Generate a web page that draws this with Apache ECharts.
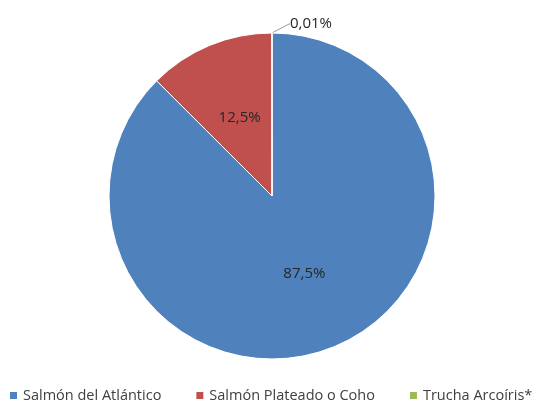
<!DOCTYPE html>
<html>
<head>
<meta charset="utf-8">
<script src="https://cdn.jsdelivr.net/npm/echarts@6/dist/echarts.min.js"></script>
<style>
  html, body { margin: 0; padding: 0; background: #fff; }
  #chart { width: 539px; height: 403px; }
</style>
</head>
<body>
<div id="chart"></div>
<script>
const categories = ['Salmón del Atlántico', 'Salmón Plateado o Coho', 'Trucha Arcoíris*']
const shares = [87.49, 12.5, 0.01]
const colors = ['#4F81BD', '#C0504D', '#9BBB59']

const fmt = (v) => (v < 0.1 ? v.toFixed(2) : v.toFixed(1)).replace('.', ',') + '%'

const chart = echarts.init(document.getElementById('chart'))

chart.setOption({
  animation: false,
  color: colors,
  legend: {
    data: categories,
    top: 388,
    left: 8,
    width: 531,
    padding: 0,
    icon: 'rect',
    itemWidth: 9,
    itemHeight: 9,
    itemGap: 33,
    textStyle: { color: '#404040', fontSize: 14.5, fontFamily: 'Open Sans' },
  },
  series: [
    {
      type: 'pie',
      center: [272, 196],
      radius: [0, 163],
      startAngle: 90,
      clockwise: true,
      data: categories.map((name, i) => ({
        name,
        value: shares[i],
        label: i === 2 ? { position: 'outside' } : undefined,
        labelLine: i === 2 ? { show: true, length: 1, length2: 1 } : undefined,
      })),
      itemStyle: { borderColor: '#fff', borderWidth: 1 },
      label: {
        show: true,
        position: 'inside',
        color: '#262626',
        fontSize: 15,
        fontFamily: 'Open Sans',
        formatter: (p) => fmt(p.value),
      },
      labelLine: { lineStyle: { color: '#999', width: 1 } },
      labelLayout: (p) =>
        p.dataIndex === 2 ? { x: 290, y: 24, align: 'left', verticalAlign: 'middle' } : {},
    },
  ],
})
</script>
</body>
</html>
